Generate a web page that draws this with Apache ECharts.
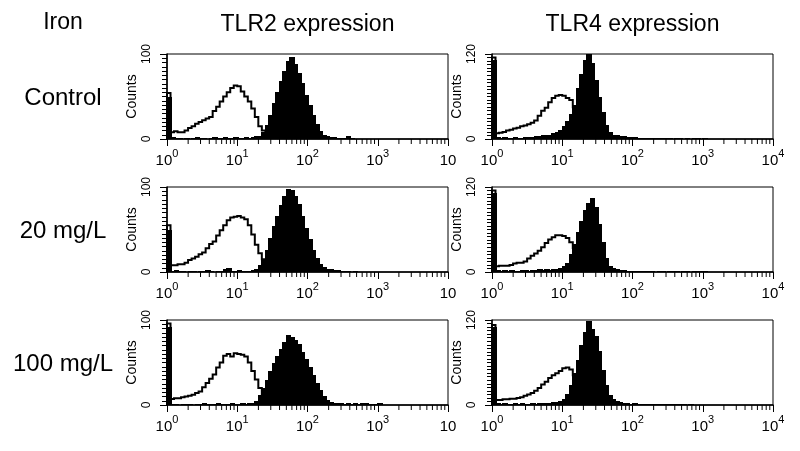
<!DOCTYPE html>
<html><head><meta charset="utf-8">
<script src="https://cdn.jsdelivr.net/npm/echarts@6/dist/echarts.min.js"></script>
<style>html,body{margin:0;padding:0;background:#fff}#c{width:800px;height:451px}</style>
</head><body><div id="c"></div>
<script>
// ---------- data ----------
const cornerLabel = 'Iron';
const rowLabels = ['Control', '20 mg/L', '100 mg/L'];
const colTitles = ['TLR2 expression', 'TLR4 expression'];
const yAxisName = 'Counts';
const yMaxByCol = [100, 120];
const decadeExponents = [0, 1, 2, 3, 4];
const minorMultipliers = [2, 3, 4, 5, 6, 7, 8, 9];
const binsPerDecade = 20; // histogram bins per decade of fluorescence

// counts per bin (bin b covers 10^(b/20) .. 10^((b+1)/20))
const tlr2ControlOpen = [54, 8,9,8,8,10,13,15,18,20, 22,24,26,33,38,44,50,55,60,63, 62,56,50,44,36,26,15,10,8,5, 3,2];
const tlr2ControlFilled = [50, 2,1,1,0,1,0,1,2,1, 1,0,1,2,1,1,2,1,1,2, 1,1,2,1,2,3, 3,8,16,28,42, 55,68,80,92,96, 88,78,66,52,40, 28,18,10,5,3, 2,2,1,1,1, 3,1];
const tlr4ControlOpen = [115, 8,9,10,12,13,15,16,18,19, 21,23,26,33,40,44,52,58,61,62, 61,58,55,45,35,22,12,6,3,2];
const tlr4ControlFilled = [112, 3,2,3,2,2,3,2,2,3, 3,3,4,4,5,5,6,8,10,13, 18,25,36,48,72,92,112,120,108,84, 60,38,20,10,6,5,4,4,3,3, 3,2,2,1,2,1,1,2,1,1, 1,0,1,1,0,1,0,1,1,0, 1];
const tlr2Iron20Open = [55, 8,8,9,9,11,14,16,18,21, 23,28,33,36,43,49,55,61,64,65, 66,64,62,55,44,32,22,15,9,5, 3,2];
const tlr2Iron20Filled = [50, 1,2,1,1,0,1,1,0,1,1, 2,1,0,1,1,3,5,1,1,2, 1,1,1, 2,4,8,15,26,40,54,66,79,90,98,97,90,80,66,52,39,26,16,10,6,4,3,2,2,1,1,1,0,1];
const tlr4Iron20Open = [115, 8,9,9,9,10,12,13,13,15, 19,23,26,30,35,41,46,49,52,52, 51,48,42,34,25,15,8,4,2];
const tlr4Iron20Filled = [112, 3,2,3,2,3,2,2,3,3,2, 3,3,4,3,4,3,4,4, 5,8,13,25,40,57,72,88,98,104,92,68,42,20,9,5,4,3,3,2,2, 1,2,1,1,1,1,0,1,1,0,1,1,1,0,1,1,0,1,1,1,1];
const tlr2Iron100Open = [96, 7,8,8,9,10,11,12,14,16, 21,26,31,36,44,50,58,60,57,61, 60,59,57,50,40,30,20,13,8,4, 2];
const tlr2Iron100Filled = [92, 1,1,0,1,1,1,0,1,1,2, 1,1,1,2,1,1,1,2,1,1, 2,1,2, 2,5,12,20,30,40,50,58,66,74,82,80,77,72,62,54,45,35,26,18,11,6,3,2, 2,2,1,2,1,2,1,2,2,1,1,1,2];
const tlr4Iron100Open = [113, 7,7,8,8,9,9,10,11,13, 15,17,20,24,29,33,38,42,45,48, 52,53,50,42,30,18,10,5,2];
const tlr4Iron100Filled = [110, 3,2,3,2,2,3,2,3,2, 2,3,2,3,3,3,3,4,4,5, 8,15,28,45,64,85,103,118,108,98, 76,50,28,14,8,5,4,3,3, 2,3,2,2,2,1,2,1,2, 1,1,2,1,1,1,1,0,1];

const panels = [
  [tlr2ControlOpen, tlr2ControlFilled], [tlr4ControlOpen, tlr4ControlFilled],
  [tlr2Iron20Open, tlr2Iron20Filled],   [tlr4Iron20Open, tlr4Iron20Filled],
  [tlr2Iron100Open, tlr2Iron100Filled], [tlr4Iron100Open, tlr4Iron100Filled]
];

// ---------- layout / style ----------
const FONT = "'Liberation Sans', Arial, Helvetica, sans-serif";
const gridLefts = [167, 492];
const gridTops = [54, 187, 320];
const gridW = 281, gridH = 85;

// bins as [leftEdge, rightEdge, count] on the log10 axis
function binItems(counts) { return counts.map((c, b) => [b / binsPerDecade, (b + 1) / binsPerDecade, c]); }

function filledSeries(i, counts) {
  return { type: 'custom', xAxisIndex: i, yAxisIndex: i, data: binItems(counts), silent: true, z: 2,
    renderItem: (params, api) => {
      const a = api.coord([api.value(0), api.value(2)]);
      const b = api.coord([api.value(1), 0]);
      const x0 = Math.floor(a[0]), x1 = Math.ceil(b[0]) + 1, y0 = Math.round(a[1]), y1 = Math.round(b[1]);
      return { type: 'rect', shape: { x: x0, y: y0, width: x1 - x0, height: y1 - y0 },
        style: { fill: '#000', stroke: null, lineWidth: 0 } };
    } };
}
function openSeries(i, counts) {
  const items = binItems(counts);
  return { type: 'custom', xAxisIndex: i, yAxisIndex: i, data: [[0, 0]], silent: true, z: 3,
    renderItem: (params, api) => {
      const pts = [api.coord([0, 0])];
      items.forEach(it => { pts.push(api.coord([it[0], it[2]])); pts.push(api.coord([it[1], it[2]])); });
      pts.push(api.coord([items[items.length - 1][1], 0]));
      return { type: 'polyline', shape: { points: pts }, style: { fill: null, stroke: '#000', lineWidth: 2, lineJoin: 'miter' } };
    } };
}
const minorTickData = [];
decadeExponents.slice(0, -1).forEach(e => minorMultipliers.forEach(m => minorTickData.push([Math.log10(m * Math.pow(10, e)), 0])));

const grids = [], xAxes = [], yAxes = [], series = [];
panels.forEach((p, i) => {
  const row = Math.floor(i / 2), col = i % 2;
  const ymax = yMaxByCol[col];
  grids.push({ left: gridLefts[col], top: gridTops[row], width: gridW, height: gridH,
    show: true, borderColor: '#000', borderWidth: 1, backgroundColor: 'transparent' });
  xAxes.push({ type: 'value', gridIndex: i, min: decadeExponents[0], max: decadeExponents[decadeExponents.length - 1], interval: 1,
    axisLine: { lineStyle: { color: '#000', width: 1.5 } },
    axisTick: { length: 7, lineStyle: { color: '#000', width: 1 } },
    splitLine: { show: false },
    axisLabel: { margin: 9, color: '#000',
      formatter: v => { const e = Math.round(v); return (col === 0 && e === 4) ? '{b|10}' : '{b|10}{s|' + e + '}'; },
      rich: { b: { fontSize: 15, fontFamily: FONT, color: '#000', lineHeight: 20, verticalAlign: 'bottom' },
              s: { fontSize: 11, fontFamily: FONT, color: '#000', lineHeight: 20, verticalAlign: 'top' } } } });
  yAxes.push({ type: 'value', gridIndex: i, min: 0, max: ymax, interval: ymax,
    name: yAxisName, nameLocation: 'middle', nameGap: 28,
    nameTextStyle: { fontSize: 14, fontFamily: FONT, color: '#000' },
    axisLine: { show: true, lineStyle: { color: '#000', width: 1.5 } },
    axisTick: { show: true, length: 7, lineStyle: { color: '#000', width: 1 } },
    minorTick: { show: true, splitNumber: ymax / 5, length: 5, lineStyle: { color: '#000', width: 1 } },
    splitLine: { show: false },
    axisLabel: { rotate: 90, fontSize: 12, fontFamily: FONT, color: '#000', margin: 14 } });
  series.push(filledSeries(i, p[1]));
  series.push(openSeries(i, p[0]));
  series.push({ type: 'custom', xAxisIndex: i, yAxisIndex: i, data: minorTickData, silent: true, z: 4,
    renderItem: (params, api) => { const pt = api.coord([api.value(0), 0]);
      return { type: 'line', shape: { x1: pt[0], y1: pt[1], x2: pt[0], y2: pt[1] + 5 }, style: { stroke: '#000', lineWidth: 1 } }; } });
});

const graphics = [
  { type: 'text', x: 63, y: 23, style: { text: cornerLabel, font: '23px ' + FONT, fill: '#000', textAlign: 'center', textVerticalAlign: 'middle' } }
];
colTitles.forEach((t, c) => graphics.push({ type: 'text', x: gridLefts[c] + gridW / 2, y: 25,
  style: { text: t, font: '23px ' + FONT, fill: '#000', textAlign: 'center', textVerticalAlign: 'middle' } }));
rowLabels.forEach((t, r) => graphics.push({ type: 'text', x: 63, y: gridTops[r] + 44,
  style: { text: t, font: '24px ' + FONT, fill: '#000', textAlign: 'center', textVerticalAlign: 'middle' } }));

const chart = echarts.init(document.getElementById('c'), null, { renderer: 'canvas' });
chart.setOption({ animation: false, backgroundColor: '#fff', grid: grids, xAxis: xAxes, yAxis: yAxes, series: series, graphic: graphics });
</script></body></html>
